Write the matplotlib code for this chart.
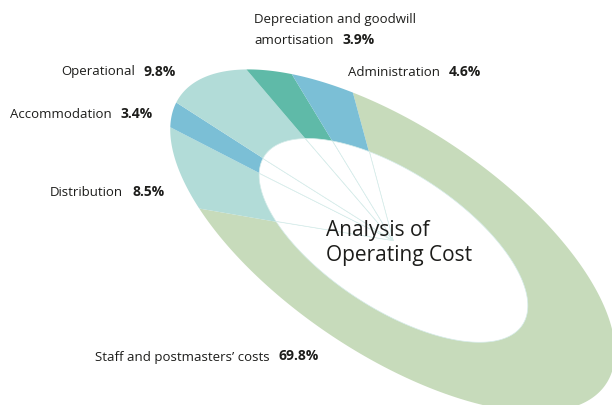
import numpy as np
import matplotlib
matplotlib.use("Agg")
import matplotlib.pyplot as plt
import matplotlib.transforms as mtransforms
from matplotlib.path import Path

# ---- data ----
categories = ["Staff and postmasters\u2019 costs", "Distribution", "Accommodation",
              "Operational", "Depreciation and goodwill\namortisation", "Administration"]
values = [69.8, 8.5, 3.4, 9.8, 3.9, 4.6]
colors = ['#c7dbbb', '#b2dcd8', '#7bbfd6', '#b2dcd8', '#5fbaa8', '#7bbfd6']
title = "Analysis of\nOperating Cost"

# ---- style: perspective (homography) of the ring, in pixel coords ----
H_OUTER = np.array([[-43.02758, 219.66219, 393.4336],
                    [-150.06797, 86.21962, 241.9856],
                    [-0.0069552, 0.0025076, 1.0]])
H_INNER = np.array([[-25.26808, 130.96174, 393.1477],
                    [-89.53258, 49.60833, 240.5841],
                    [-0.0039980, -0.0032242, 1.0]])
# label anchor (left x, centre y) in pixels
label_pos = [(95, 357), (50, 192), (10, 115), (61, 72), (254, 20), (348, 72)]


class Homography(mtransforms.Transform):
    input_dims = 2
    output_dims = 2
    is_separable = False
    has_inverse = False

    def __init__(self, H):
        super().__init__()
        self.H = np.asarray(H, float)

    def transform_non_affine(self, values):
        v = np.asarray(values, float)
        w = v @ self.H[:, :2].T + self.H[:, 2]
        return w[:, :2] / w[:, 2:3]

    def transform_path_non_affine(self, path):
        verts, codes = [], []
        for seg, code in path.iter_bezier():
            cp = seg.control_points
            if code == Path.MOVETO:
                verts.append(cp[-1:])
                codes.append([Path.MOVETO])
            else:
                n = 1 if len(cp) == 2 else 30
                t = np.linspace(0, 1, n + 1)[1:]
                pts = seg(t)
                verts.append(pts)
                codes.append([Path.LINETO] * len(pts))
        v = np.concatenate(verts)
        return Path(self.transform_non_affine(v), np.concatenate(codes))


plt.rcParams['font.family'] = ['Open Sans', 'DejaVu Sans']
fig = plt.figure(figsize=(6.12, 4.05), dpi=100)
ax = fig.add_axes([0, 0, 1, 1])

wedges, _ = ax.pie(values, colors=colors, radius=1, startangle=0, counterclock=True,
                   wedgeprops=dict(edgecolor='none'))
for w in wedges:
    w.set_transform(Homography(H_OUTER) + ax.transData)

holes, _ = ax.pie(values, colors=['white'] * len(values), radius=1, startangle=0,
                  counterclock=True, wedgeprops=dict(edgecolor='#d6ecea', linewidth=0.5))
for w in holes:
    w.set_transform(Homography(H_INNER) + ax.transData)

ax.set_xlim(0, 612)
ax.set_ylim(405, 0)
ax.set_aspect('auto')
ax.axis('off')

tc = '#1d1d1b'
for name, val, (x, y) in zip(categories, values, label_pos):
    lines = name.split("\n")
    for extra in lines[:-1]:
        ax.text(x, y, extra, fontsize=9.5, color=tc, va='center', ha='left')
        y += 21
    t = ax.text(x, y, lines[-1], fontsize=9.5, color=tc, va='center', ha='left')
    ax.annotate(f"{val:.1f}%", xy=(1, 0), xycoords=t, xytext=(6.5, 0),
                textcoords='offset points', fontsize=10, fontweight='bold',
                color=tc, va='bottom', ha='left')

ax.text(326, 243, title, fontsize=15, color=tc, va='center', linespacing=1.2)

fig.savefig("out.png", dpi=100)
